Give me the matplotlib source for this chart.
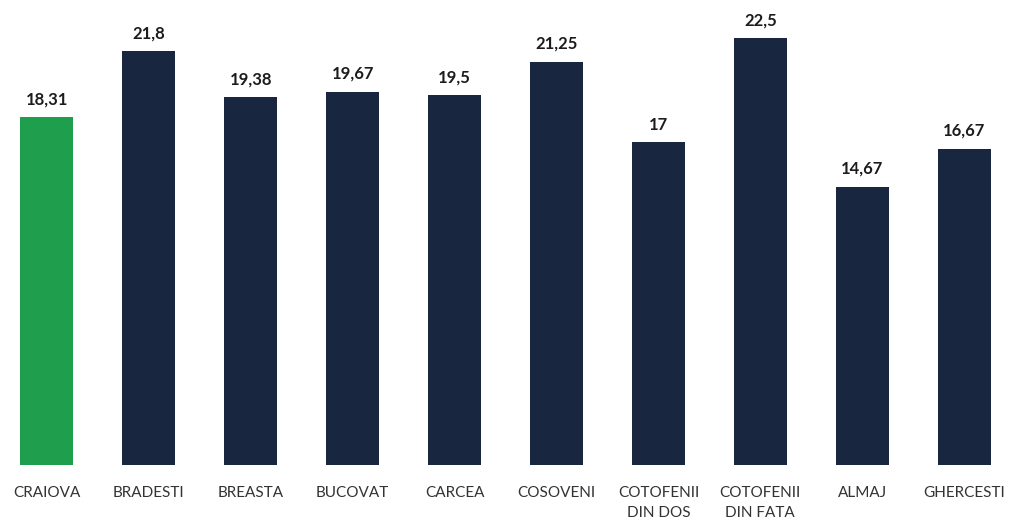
import numpy as np
from matplotlib import pyplot as plt

categories = ['CRAIOVA', 'BRADESTI', 'BREASTA', 'BUCOVAT', 'CARCEA', 'COSOVENI',
              'COTOFENII\nDIN DOS', 'COTOFENII\nDIN FATA', 'ALMAJ', 'GHERCESTI']
values = [18.31, 21.8, 19.38, 19.67, 19.5, 21.25, 17, 22.5, 14.67, 16.67]
value_labels = ['18,31', '21,8', '19,38', '19,67', '19,5', '21,25', '17', '22,5', '14,67', '16,67']

green = '#1f9e4e'
navy = '#19263f'
colors = [green] + [navy] * (len(values) - 1)

plt.rcParams['font.family'] = ['Lato', 'DejaVu Sans']

fig = plt.figure(figsize=(10.16, 5.2), dpi=100)
ax = fig.add_axes([0, 55 / 520, 1, 465 / 520])

x = np.arange(len(values))
bars = ax.bar(x, values, width=0.52, color=colors)

for b, lab in zip(bars, value_labels):
    ax.annotate(lab, (b.get_x() + b.get_width() / 2, b.get_height()),
                xytext=(0, 7), textcoords='offset points',
                ha='center', va='bottom', fontsize=12, fontweight='bold', color='#1c1c1c')

# category labels under the bars
for i, c in enumerate(categories):
    ax.annotate(c, (i, 0), xytext=(0, -15), textcoords='offset points',
                ha='center', va='top', fontsize=11, color='#333333', linespacing=1.55,
                annotation_clip=False)

ax.set_xlim(-0.461, 9.509)
ax.set_ylim(0, 24.5)
ax.axis('off')

fig.savefig('out.png', dpi=100, facecolor='white')
